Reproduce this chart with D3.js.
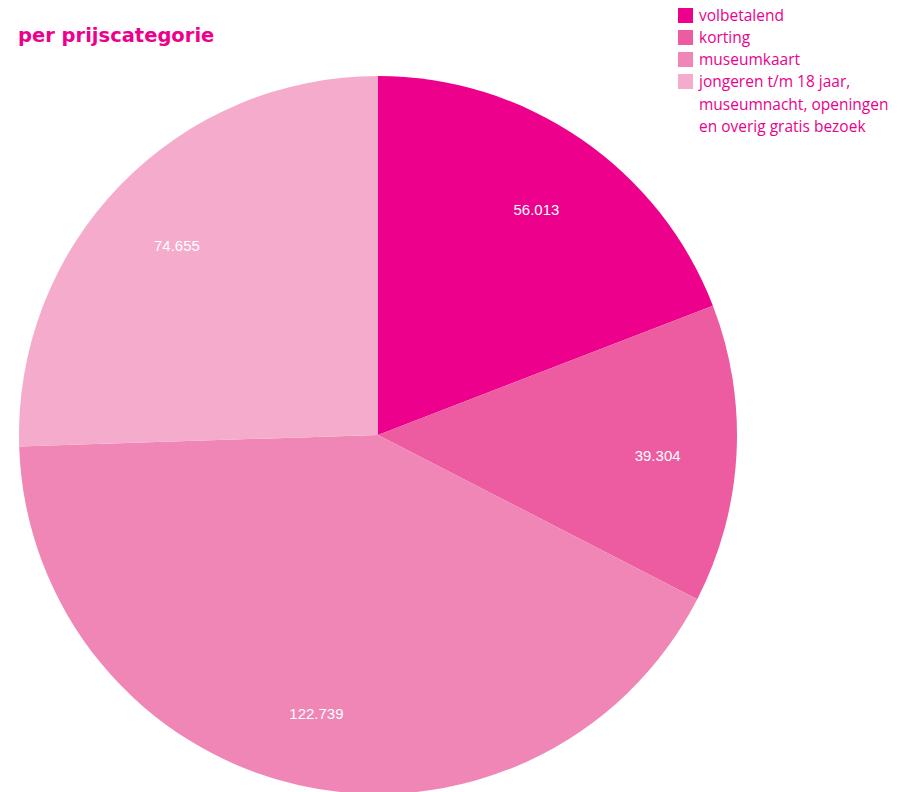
<!DOCTYPE html>
<html>
<head>
<meta charset="utf-8">
<script src="https://cdn.jsdelivr.net/npm/d3@7"></script>
<style>
  body { margin: 0; background: #fff; }
  svg { display: block; }
</style>
</head>
<body>
<div id="chart"></div>
<script>
// Dimensions of the chart.
var width = 920;
var height = 792;
var radius = 359;
var cx = 378, cy = 435;

// Data.
var categories = ["volbetalend", "korting", "museumkaart",
    "jongeren t/m 18 jaar, museumnacht, openingen en overig gratis bezoek"];
var legendLines = [["volbetalend"], ["korting"], ["museumkaart"],
    ["jongeren t/m 18 jaar,", "museumnacht, openingen", "en overig gratis bezoek"]];
var values = [56013, 39304, 122739, 74655];
var colors = ["#ec008c", "#ed5ba1", "#f086b5", "#f4abcc"];

var svg = d3.select("#chart").append("svg")
    .attr("width", width)
    .attr("height", height);

// Title
svg.append("text")
    .attr("x", 18)
    .attr("y", 42)
    .style("font-family", "'DejaVu Sans', sans-serif")
    .style("font-weight", "bold")
    .style("font-size", "19.5px")
    .style("fill", "#ec008c")
    .text("per prijscategorie");

var pie = d3.pie().sort(null).value(function(d) { return d; });
var arc = d3.arc().innerRadius(0).outerRadius(radius);
var labelArc = d3.arc().innerRadius(radius * 0.78).outerRadius(radius * 0.78);

var g = svg.append("g")
    .attr("transform", "translate(" + cx + "," + cy + ")");

var arcs = pie(values);

g.selectAll("path")
    .data(arcs)
    .enter().append("path")
    .attr("d", arc)
    .style("fill", function(d, i) { return colors[i]; });

g.selectAll("text.lbl")
    .data(arcs)
    .enter().append("text")
    .attr("class", "lbl")
    .attr("transform", function(d) { return "translate(" + labelArc.centroid(d) + ")"; })
    .attr("dy", "0.75em")
    .attr("text-anchor", "middle")
    .style("font-family", "'Liberation Sans', Arial, sans-serif")
    .style("font-size", "15px")
    .style("fill", "#fff")
    .text(function(d) { return d3.format(",")(d.data).replace(/,/g, "."); });

// Legend
var legend = svg.append("g").attr("transform", "translate(678,8)");
var rowY = [0, 22, 44, 66];

var item = legend.selectAll("g")
    .data(categories)
    .enter().append("g")
    .attr("transform", function(d, i) { return "translate(0," + rowY[i] + ")"; });

item.append("rect")
    .attr("width", 15)
    .attr("height", 15)
    .style("fill", function(d, i) { return colors[i]; });

item.each(function(d, i) {
    var t = d3.select(this).append("text")
        .attr("x", 21)
        .attr("y", 13)
        .style("font-family", "'Open Sans', sans-serif")
        .style("font-size", "15.5px")
        .style("fill", "#ec008c");
    legendLines[i].forEach(function(line, j) {
        t.append("tspan")
            .attr("x", 21)
            .attr("dy", j === 0 ? 0 : 22.5)
            .text(line);
    });
});
</script>
</body>
</html>
